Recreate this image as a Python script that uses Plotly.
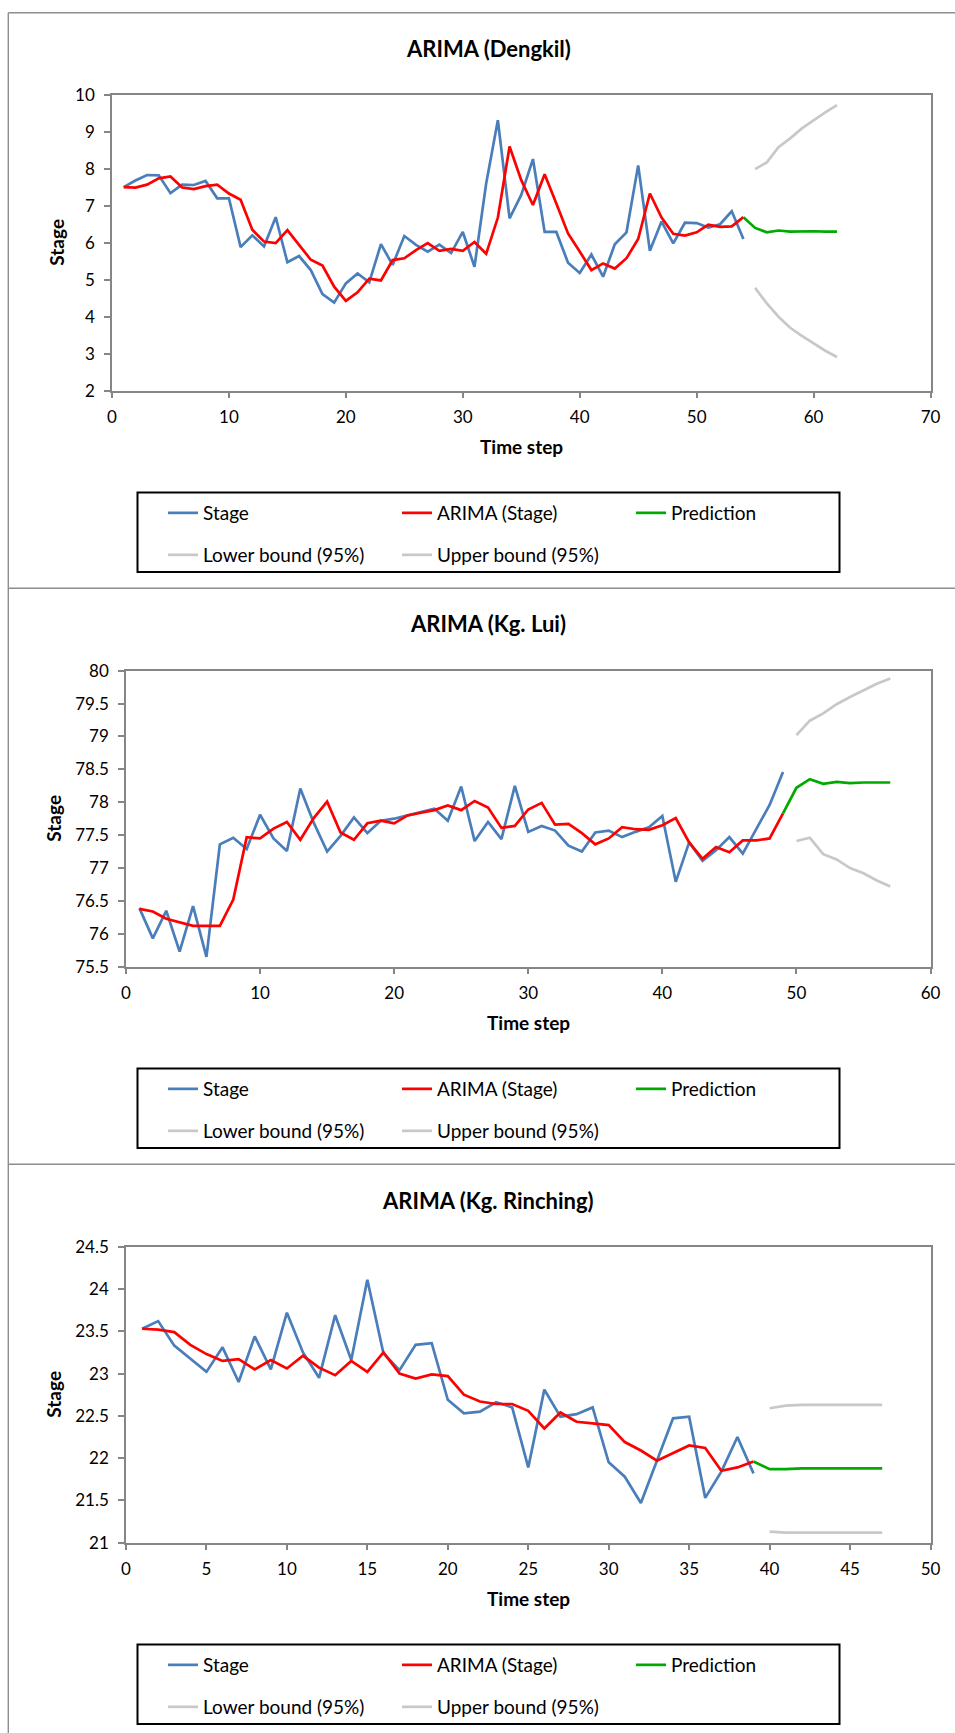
import plotly.graph_objects as go

# ---------------- data ----------------
titles = ["ARIMA (Dengkil)", "ARIMA (Kg. Lui)", "ARIMA (Kg. Rinching)"]
series_names = ["Stage", "ARIMA (Stage)", "Prediction", "Lower bound (95%)", "Upper bound (95%)"]
x_axis_title = "Time step"
y_axis_title = "Stage"

# Dengkil
dengkil_t = list(range(1, 55))
dengkil_stage = [7.50, 7.68, 7.83, 7.82, 7.34, 7.57, 7.56, 7.67, 7.20, 7.20,
                 5.88, 6.20, 5.90, 6.69, 5.47, 5.64, 5.26, 4.61, 4.38, 4.90,
                 5.17, 4.93, 5.96, 5.40, 6.18, 5.94, 5.76, 5.95, 5.72, 6.29,
                 5.35, 7.60, 9.31, 6.66, 7.29, 8.26, 6.29, 6.29, 5.46, 5.18,
                 5.68, 5.08, 5.96, 6.28, 8.09, 5.78, 6.57, 5.98, 6.54, 6.53,
                 6.41, 6.50, 6.85, 6.10]
dengkil_arima = [7.50, 7.49, 7.57, 7.74, 7.79, 7.49, 7.45, 7.53, 7.57, 7.33,
                 7.16, 6.35, 6.03, 5.99, 6.34, 5.93, 5.54, 5.38, 4.81, 4.43,
                 4.66, 5.03, 4.98, 5.53, 5.58, 5.80, 5.99, 5.78, 5.83, 5.78,
                 6.02, 5.70, 6.68, 8.60, 7.69, 7.02, 7.85, 7.06, 6.25, 5.76,
                 5.26, 5.44, 5.30, 5.58, 6.10, 7.33, 6.68, 6.24, 6.19, 6.28,
                 6.49, 6.43, 6.44, 6.69]
dengkil_pred_t = list(range(54, 63))
dengkil_pred = [6.69, 6.40, 6.28, 6.33, 6.30, 6.31, 6.31, 6.30, 6.30]
dengkil_bound_t = list(range(55, 63))
dengkil_lower = [4.78, 4.36, 4.00, 3.70, 3.48, 3.28, 3.08, 2.91]
dengkil_upper = [7.99, 8.17, 8.58, 8.82, 9.09, 9.31, 9.52, 9.72]

# Kg. Lui
lui_t = list(range(1, 50))
lui_stage = [76.39, 75.93, 76.35, 75.73, 76.42, 75.65, 77.36, 77.46, 77.29, 77.81,
             77.45, 77.26, 78.21, 77.69, 77.25, 77.49, 77.77, 77.53, 77.72, 77.75,
             77.80, 77.85, 77.90, 77.72, 78.24, 77.41, 77.70, 77.44, 78.25, 77.55,
             77.64, 77.57, 77.34, 77.25, 77.54, 77.57, 77.47, 77.55, 77.62, 77.79,
             76.79, 77.39, 77.11, 77.27, 77.47, 77.22, 77.58, 77.96, 78.46]
lui_arima = [76.38, 76.34, 76.23, 76.18, 76.12, 76.12, 76.12, 76.52, 77.47, 77.45,
             77.60, 77.70, 77.43, 77.76, 78.01, 77.54, 77.43, 77.68, 77.72, 77.68,
             77.80, 77.84, 77.88, 77.95, 77.88, 78.02, 77.92, 77.61, 77.64, 77.89,
             77.99, 77.66, 77.67, 77.53, 77.36, 77.45, 77.62, 77.59, 77.58, 77.65,
             77.76, 77.39, 77.14, 77.32, 77.24, 77.42, 77.42, 77.45, 77.83]
lui_pred_t = list(range(49, 58))
lui_pred = [77.83, 78.22, 78.35, 78.28, 78.31, 78.29, 78.30, 78.30, 78.30]
lui_bound_t = list(range(50, 58))
lui_lower = [77.41, 77.46, 77.21, 77.13, 77.00, 76.92, 76.81, 76.72]
lui_upper = [79.02, 79.24, 79.35, 79.49, 79.60, 79.70, 79.80, 79.88]

# Kg. Rinching
rinching_t = list(range(1, 40))
rinching_stage = [23.53, 23.62, 23.33, 23.17, 23.02, 23.31, 22.90, 23.44, 23.05, 23.72,
                  23.25, 22.95, 23.69, 23.16, 24.11, 23.24, 23.04, 23.34, 23.36, 22.69,
                  22.53, 22.55, 22.66, 22.60, 21.89, 22.81, 22.49, 22.52, 22.60, 21.95,
                  21.78, 21.47, 21.97, 22.47, 22.49, 21.53, 21.84, 22.25, 21.82]
rinching_arima = [23.53, 23.52, 23.49, 23.34, 23.23, 23.15, 23.17, 23.05, 23.16, 23.06,
                  23.21, 23.07, 22.98, 23.15, 23.02, 23.25, 23.00, 22.94, 22.99, 22.97,
                  22.75, 22.67, 22.64, 22.64, 22.56, 22.35, 22.54, 22.43, 22.41, 22.39,
                  22.19, 22.09, 21.97, 22.06, 22.15, 22.12, 21.85, 21.89, 21.96]
rinching_pred_t = list(range(39, 48))
rinching_pred = [21.96, 21.87, 21.87, 21.88, 21.88, 21.88, 21.88, 21.88, 21.88]
rinching_bound_t = list(range(40, 48))
rinching_lower = [21.13, 21.12, 21.12, 21.12, 21.12, 21.12, 21.12, 21.12]
rinching_upper = [22.59, 22.62, 22.63, 22.63, 22.63, 22.63, 22.63, 22.63]

# axis scales
x_ranges = [[0, 70], [0, 60], [0, 50]]
x_dticks = [10, 10, 5]
y_ranges = [[2, 10], [75.5, 80], [21, 24.5]]
y_dticks = [1, 0.5, 0.5]

# ---------------- styling / layout ----------------
W, H = 955, 1733
FONT = "Lato"
C_STAGE = "#4A7EBB"
C_ARIMA = "#FF0000"
C_PRED = "#00AA00"
C_BOUND = "#C8C8C8"
C_AXIS = "#868686"
C_BORDER = "#8E8E8E"


def px(x):
    return x / W


def py(y):
    return 1 - y / H


panel_h = 576
plot_left = [112, 126, 126]
plot_right = 930.5
plot_top = 94.7
plot_bottom = 390.7
ytitle_x = [57, 54, 54]

panels = [
    (dengkil_t, dengkil_stage, dengkil_arima, dengkil_pred_t, dengkil_pred,
     dengkil_bound_t, dengkil_lower, dengkil_upper),
    (lui_t, lui_stage, lui_arima, lui_pred_t, lui_pred,
     lui_bound_t, lui_lower, lui_upper),
    (rinching_t, rinching_stage, rinching_arima, rinching_pred_t, rinching_pred,
     rinching_bound_t, rinching_lower, rinching_upper),
]

fig = go.Figure()
annotations = []
shapes = []
layout_extra = {}

for i, (t, stage, arima, pt, pred, bt, lower, upper) in enumerate(panels):
    off = i * panel_h
    sfx = "" if i == 0 else str(i + 1)
    xa, ya = "x" + sfx, "y" + sfx
    leg_a = "legend" if i == 0 else "legend" + str(2 * i + 1)
    leg_b = "legend" + str(2 * i + 2)

    fig.add_trace(go.Scatter(x=t, y=stage, name=series_names[0], mode="lines",
                             line=dict(color=C_STAGE, width=2.7), xaxis=xa, yaxis=ya, legend=leg_a))
    fig.add_trace(go.Scatter(x=t, y=arima, name=series_names[1], mode="lines",
                             line=dict(color=C_ARIMA, width=2.7), xaxis=xa, yaxis=ya, legend=leg_a))
    fig.add_trace(go.Scatter(x=pt, y=pred, name=series_names[2], mode="lines",
                             line=dict(color=C_PRED, width=2.7), xaxis=xa, yaxis=ya, legend=leg_a))
    fig.add_trace(go.Scatter(x=bt, y=lower, name=series_names[3], mode="lines",
                             line=dict(color=C_BOUND, width=2.7), xaxis=xa, yaxis=ya, legend=leg_b))
    fig.add_trace(go.Scatter(x=bt, y=upper, name=series_names[4], mode="lines",
                             line=dict(color=C_BOUND, width=2.7), xaxis=xa, yaxis=ya, legend=leg_b))

    common = dict(showgrid=False, zeroline=False, showline=True, linecolor=C_AXIS,
                  linewidth=1.5, mirror=True, ticks="outside", ticklen=6, tickwidth=1.5,
                  tickcolor=C_AXIS, automargin=False,
                  tickfont=dict(family=FONT, size=17, color="black"))
    layout_extra["xaxis" + sfx] = dict(
        domain=[px(plot_left[i]), px(plot_right)], range=x_ranges[i], dtick=x_dticks[i], tick0=0,
        anchor=ya, ticklabelstandoff=4, **common)
    layout_extra["yaxis" + sfx] = dict(
        domain=[py(off + plot_bottom), py(off + plot_top)], range=y_ranges[i], dtick=y_dticks[i],
        anchor=xa, ticklabelstandoff=6, **common)

    annotations.append(dict(text="<b>" + titles[i] + "</b>", x=px(488), y=py(off + 48),
                            xref="paper", yref="paper", xanchor="center", yanchor="middle",
                            showarrow=False, font=dict(family=FONT, size=22, color="black")))
    annotations.append(dict(text="<b>" + x_axis_title + "</b>",
                            x=px((plot_left[i] + plot_right) / 2), y=py(off + 446),
                            xref="paper", yref="paper", xanchor="center", yanchor="middle",
                            showarrow=False, font=dict(family=FONT, size=19, color="black")))
    annotations.append(dict(text="<b>" + y_axis_title + "</b>", textangle=-90,
                            x=px(ytitle_x[i]), y=py(off + (plot_top + plot_bottom) / 2),
                            xref="paper", yref="paper", xanchor="center", yanchor="middle",
                            showarrow=False, font=dict(family=FONT, size=19, color="black")))
    shapes.append(dict(type="rect", xref="paper", yref="paper",
                       x0=px(137.5), x1=px(839.5), y0=py(off + 492.5), y1=py(off + 572),
                       line=dict(color="black", width=2), fillcolor="rgba(0,0,0,0)"))
    for leg, yc in ((leg_a, 513), (leg_b, 555)):
        layout_extra[leg] = dict(orientation="h", x=px(163), xanchor="left",
                                 y=py(off + yc), yanchor="middle",
                                 entrywidth=189, entrywidthmode="pixels",
                                 bgcolor="rgba(0,0,0,0)", borderwidth=0,
                                 font=dict(family=FONT, size=19, color="black"))
    if i < 2:
        shapes.append(dict(type="line", xref="paper", yref="paper",
                           x0=px(8.3), x1=1, y0=py(off + 588.3), y1=py(off + 588.3),
                           line=dict(color=C_BORDER, width=1.6)))

shapes.append(dict(type="line", xref="paper", yref="paper", x0=px(8.3), x1=px(8.3),
                   y0=0, y1=py(12.7), line=dict(color=C_BORDER, width=1.4)))
shapes.append(dict(type="line", xref="paper", yref="paper", x0=px(8.3), x1=1,
                   y0=py(12.7), y1=py(12.7), line=dict(color=C_BORDER, width=1.4)))

fig.update_layout(
    width=W, height=H, margin=dict(l=0, r=0, t=0, b=0, autoexpand=False),
    paper_bgcolor="white", plot_bgcolor="white",
    showlegend=True, annotations=annotations, shapes=shapes,
    **layout_extra,
)

fig.write_html(
    "out.html",
    config={"displayModeBar": False},
    post_script="document.documentElement.style.margin='0';document.body.style.margin='0';"
                "document.documentElement.style.overflow='hidden';document.body.style.overflow='hidden';",
)
